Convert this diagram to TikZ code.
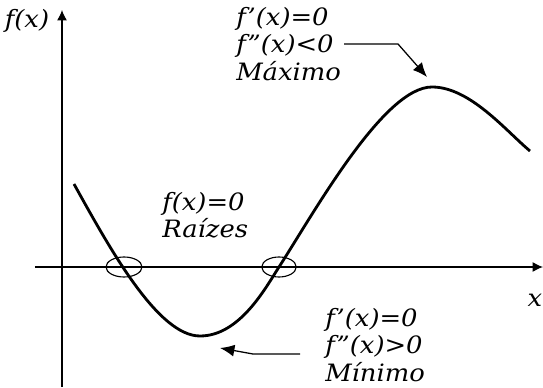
\documentclass[tikz,border=0pt]{standalone}
\usepackage{fontspec}
\setmainfont{DejaVu Serif}[FakeStretch=1.08]
\usetikzlibrary{arrows.meta}

\begin{document}
\begin{tikzpicture}[
	lbl/.style={font=\fontsize{17}{19.5}\selectfont\itshape, align=left, inner sep=0pt},
	eixo/.style={line width=0.9pt, -{Latex[length=2.6mm,width=2.5mm]}},
	seta/.style={line width=0.9pt, -{Latex[length=3.6mm,width=3mm]}}
	]
		\useasboundingbox (-1.55,-3.0) rectangle (12.025,6.675);
		% Оси
		\coordinate (xini) at (-0.675,0);
		\coordinate (xfim) at (12.025,0);
		\coordinate (yini) at (0,-3.0);
		\coordinate (yfim) at (0,6.425);
		\draw[eixo] (xini) -- (xfim);
		\draw[eixo] (yini) -- (yfim);
		\node[lbl] (fx) at (-0.875,6.15) {f(x)};
		\node[lbl] (x) at (11.825,-0.825) {x};
		
		% Кривая
		\draw[line width=2pt] (0.3,2.075) .. controls (1.2,0.45) and (2.4,-1.725) .. (3.45,-1.725)
			.. controls (4.45,-1.725) and (5.1,-0.5) .. (5.425,0)
			.. controls (6.325,1.4) and (8.05,4.5) .. (9.25,4.5)
			.. controls (10.2,4.5) and (11.1,3.4) .. (11.7,2.9);
		
		% Корни
		\draw[line width=0.8pt] (1.55,0) ellipse (0.45 and 0.25);
		\draw[line width=0.8pt] (5.425,0) ellipse (0.43 and 0.25);
		\node[lbl, anchor=north west] (raizes) at (2.5,1.875) {f(x)=0\\Raízes};
		
		% Максимум
		\node[lbl, anchor=north west] (maximo) at (4.35,6.5) {f'(x)=0\\f''(x)<0\\Máximo};
		\coordinate (maxini) at (7.05,5.575);
		\coordinate (maxdob) at (8.4,5.575);
		\coordinate (maxpt) at (9.125,4.75);
		\draw[seta] (maxini) -- (maxdob) -- (maxpt);
		
		% Минимум
		\node[lbl, anchor=north west] (minimo) at (6.575,-1.025) {f'(x)=0\\f''(x)>0\\Mínimo};
		\coordinate (minini) at (5.95,-2.175);
		\coordinate (mindob) at (4.775,-2.175);
		\coordinate (minpt) at (3.95,-2.025);
		\draw[seta] (minini) -- (mindob) -- (minpt);
	\end{tikzpicture}
\end{document}
